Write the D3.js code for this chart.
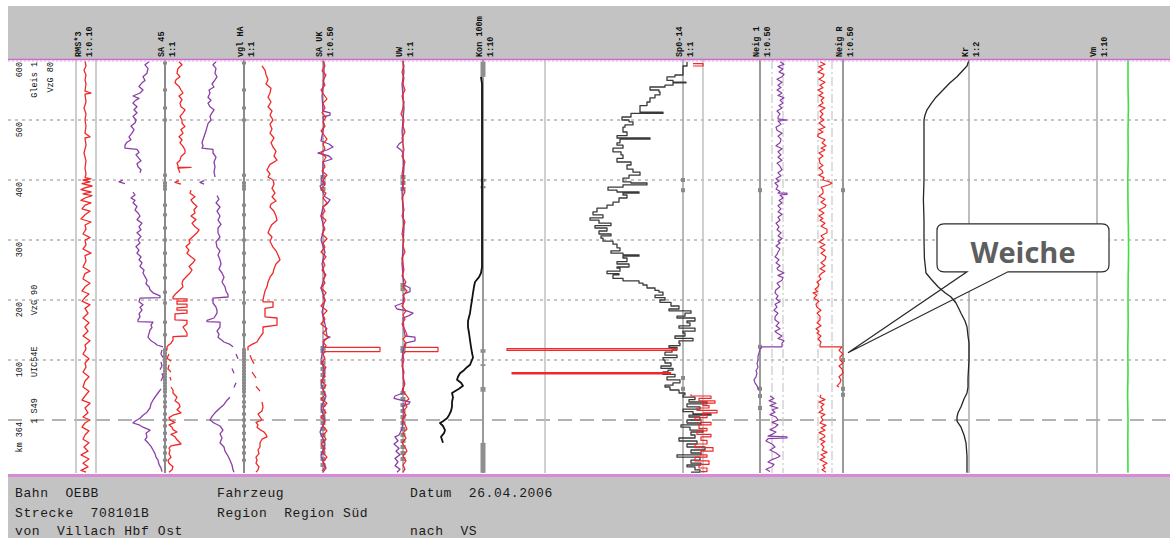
<!DOCTYPE html>
<html>
<head>
<meta charset="utf-8">
<title>Messschrieb Gleis 1</title>
<script src="https://d3js.org/d3.v7.min.js"></script>
<style>
  body { margin: 0; background: #fff; }
  text { font-family: "Liberation Mono", "DejaVu Sans Mono", monospace; }
</style>
</head>
<body>
<div id="chart"></div>
<script>
// ---- data: [km position in m, value in mm], null = gap ----
const kmTicks = [600, 500, 400, 300, 200, 100];
const kmTickLabels = ["600", "500", "400", "300", "200", "100"];
const kmZero = 0;

const headerNames = ["RMS*3", "SA 45", "vgl HA", "SA UK", "UW", "Kon 100m", "Sp0-14", "Neig 1", "Neig R", "Kr", "Vm"];
const headerScales = ["1:0.10", "1:1", "1:1", "1:0.50", "1:1", "1:10", "1:1", "1:0.50", "1:0.50", "1:2", "1:10"];
const headerChannels = ["rms", "sa45", "vgl", "sauk", "uw", "kon", "sp", "neig1", "neigR", "kr", "vm"];

const sideNotes = [
  { text: "Gleis 1", km: 600, col: 1, anchor: "end" },
  { text: "VzG 80", km: 600, col: 2, anchor: "end" },
  { text: "VzG 90", km: 200, col: 1, anchor: "middle" },
  { text: "UIC54E", km: 97, col: 1, anchor: "middle" },
  { text: "1 S49", km: 15, col: 1, anchor: "middle" },
  { text: "km 364", km: 0, col: 0, anchor: "end" }
];

const footerRows = [
  ["Bahn  OEBB", "Fahrzeug", "Datum  26.04.2006"],
  ["Strecke  708101B", "Region  Region Süd", ""],
  ["von  Villach Hbf Ost", "", "nach  VS"]
];

const rmsRed = [[598,0],[590,0.5],[583,-0.5],[575,0.5],[567,0],[560,0.5],[548,0],[545,3],[543,0],[530,0.5],[520,-0.5],[510,0.5],[500,0],[490,0.5],[478,0],[472,2.5],[470,0],[458,0.5],[445,-0.5],[432,0.5],[420,0],[410,0.5],[404,0],[402,3],[400,-1],[397,2.5],[394,-1.5],[390,3.5],[387,0],[384,-2],[380,3],[377,-1],[374,3.5],[370,0],[366,-2],[362,3],[358,0],[352,-1.5],[348,2.5],[342,0],[335,-2],[330,3],[325,0],[318,0.5],[310,-1],[304,2.5],[300,0],[292,0.5],[285,-1],[278,3],[274,0],[265,0.5],[255,-1],[248,2.5],[244,0],[235,-1],[228,2.5],[222,0],[215,-1.5],[210,2],[204,0],[198,-1.5],[192,2.5],[186,0],[178,1.5],[170,-1],[162,2],[155,0],[148,1.5],[140,-1],[132,2.5],[125,0],[118,0.5],[110,-1],[102,2],[95,0],[88,0.5],[80,-1],[72,2],[65,0],[55,-1],[48,2],[40,0],[33,-1.5],[28,2.5],[20,0],[12,1.5],[5,-1],[0,2.5],[-5,0],[-12,-1.5],[-18,2],[-25,0],[-32,-1],[-38,2],[-45,-0.5],[-52,1.5],[-58,-2],[-65,2],[-72,-1],[-78,1.5],[-84,-2],[-87,0.5]];

const sa45Purple = [[597,-8],[592,-10],[586,-8.5],[578,-9],[572,-11],[566,-10],[562,-11.5],[556,-13],[550,-11],[545,-12.5],[540,-16],[536,-13],[532,-15],[528,-16],[522,-14],[517,-15.5],[512,-14],[506,-16],[500,-14.5],[495,-15],[490,-17],[484,-15.5],[478,-16.5],[472,-18],[467,-17],[463,-19],[458,-20],[453,-20],[451,-14],[446,-13],[442,-14.5],[438,-13.5],[432,-12],[427,-14],[422,-13.5],[417,-12],[412,-12.5],
  null,[400,-21],[397,-23],[394,-20],
  null,[380,-16],[375,-15],[370,-17],[366,-15],[362,-16],[356,-14],[350,-15],[345,-13.5],[340,-12.5],[334,-14],[328,-11.5],[322,-13],[317,-12],[312,-14],[306,-12],[300,-13.5],[295,-12.5],[289,-14.5],[283,-13],[278,-14],[272,-12],[267,-13],[262,-11.5],[256,-12.5],[250,-10.5],[245,-11],[239,-10],[233,-9],[227,-9.5],[222,-8],[217,-7.5],[212,-6],[207,-2.5],[204,-2.5],[203,-12.5],[197,-13],[192,-11],[188,-12.5],[183,-11.5],[177,-13],[172,-12.5],[167,-13.5],[164,-13.5],[163,-6],[158,-7],[154,-6.5],[150,-7.5],[144,-8],[138,-8.5],[132,-7],[128,-5],[125,-4],[122,-1],
  null,[117,-1.5],[110,-2],[104,-1],
  null,[97,-2],[90,-1.5],[84,-2.5],
  null,[78,-1.5],[72,-1],[65,-2],
  null,[52,-2],[45,-3.5],[38,-5],[33,-6],[27,-7],[20,-7.5],[13,-9],[8,-11],[3,-12.5],[-2,-15],[-5,-16],[-8,-13],[-12,-11],[-17,-7.5],[-22,-9.5],[-28,-9],[-33,-10],[-38,-8.5],[-44,-7],[-50,-6],[-56,-5],[-62,-4.5],[-67,-3.5],[-74,-3],[-80,-2],[-86,-1.5]];

const sa45Red = [[597,7],[592,8.5],[586,6.5],[578,6],[572,7.5],[567,5.5],[562,5],[556,7],[550,8],[545,9],[540,7],[534,8.5],[528,7.5],[522,8],[517,10],[512,9],[506,7.5],[500,8.5],[495,8.5],[489,10],[484,8],[478,9],[472,7],[467,8.5],[462,7.5],[456,9],[450,10],[445,10],[439,8],[433,7.5],[428,6],[424,6.5],[421,6.5],[421,13],[420,6.5],[412,7.5],
  null,[399,7],[396,5],[393,8],
  null,[383,13],[378,12.5],[372,15],[367,13],[362,14],[356,16],[350,14.5],[345,15],[340,13],[334,15.5],[328,13.5],[322,15],[317,17],[312,16],[306,14],[300,12],[295,12.5],[289,10.5],[283,12],[278,11],[272,13],[267,15],[262,14],[256,12],[250,13.5],[245,12.5],[240,11],[233,9],[228,8.5],[222,9],[217,7.5],[211,5.5],[205,4],[202,4],[202,11],[198,11],[198,6],[193,6],[193,11],[188,11],[187,6],[183,6],[183,11],[178,11],[177,5],[167,5],[166,11],[160,11],[155,9],[150,10],[145,11],[140,11],[139,4],[133,4],[128,3],[124,1.5],[122,1],[116,1],
  null,[110,2],[103,1],[98,3],
  null,[92,2],[85,1.5],[80,3],
  null,[72,2.5],[66,3],
  null,[55,3],[50,4],[45,4],[38,6],[32,5],[27,7],[22,7.5],[17,6],[12,8],[8,4],[4,2],[0,2.5],[-4,5],[-8,2],[-12,3.5],[-16,4],[-20,6],[-24,3],[-28,5],[-33,6],[-38,7.5],[-40,8],[-43,3],[-47,2],[-50,2.5],[-56,2],[-62,3],[-67,1.5],[-72,2],[-78,4],[-83,3.5],[-87,2]];

const vglPurple = [[597,-14],[592,-15.5],[586,-14],[578,-14.5],[572,-13.5],[567,-14.5],[560,-16],[555,-15],[550,-17.5],[545,-17],[538,-18],[533,-16.5],[528,-18],[522,-17],[517,-15],[512,-16],[506,-17],[500,-16.5],[494,-18],[488,-18.5],[482,-19],[477,-19.5],[472,-20],[467,-20.5],[462,-21],[457,-20.5],[453,-21],[451,-15.5],[445,-15.5],[438,-14],[430,-15],[422,-14.5],[414,-15],[405,-14.5],
  null,[399,-20],[396,-22],[393,-20],
  null,[374,-13.5],[368,-12.5],[362,-14],[355,-12],[348,-13.5],[340,-12],[333,-13],[326,-11.5],[320,-13],[312,-13],[305,-12],[297,-14],[288,-13.5],[282,-12],[275,-13],[267,-12],[260,-11.5],[252,-12.5],[245,-11],[238,-10],[230,-11],[222,-9.5],[215,-9],[209,-8],[205,-8],[203,-15.5],[195,-15.5],[188,-14],[183,-13.5],[178,-13.5],[170,-15],[166,-18.5],[164,-18.5],[163,-12],[155,-12],[148,-13.5],[143,-12.5],[138,-13],[130,-10],[126,-7],[122,-5.5],
  null,[110,-4],[102,-3],
  null,[86,-6],[78,-5],
  null,[62,-4],[54,-5],
  null,[38,-7],[33,-8.5],[26,-10],[20,-12],[12,-14.5],[6,-16],[0,-17],[-5,-15],[-10,-12],[-17,-10.5],[-23,-12],[-30,-11],[-38,-12],[-45,-10],[-52,-9.5],[-60,-8],[-67,-7],[-75,-6],[-83,-5.5],[-87,-5]];

const vglRed = [[590,9],[583,10.5],[576,11],[567,12],[560,11],[553,13.5],[545,13],[538,12],[530,13.5],[522,12],[515,14],[508,13],[500,14.5],[493,13],[485,14],[478,13],[470,15],[462,13.5],[455,14.5],[448,16],[440,15],[433,16.5],[426,13],[420,12],[417,11.5],[410,13],[405,12],[400,14.5],[393,15],[386,14],[378,15.5],[372,14],[365,16],[360,13.5],[355,13],[348,15],[340,16],[333,16.5],[326,14],[320,13],[312,12],[305,14],[298,13],[288,14.5],[282,16],[275,17],[267,18],[260,16],[252,15],[245,14.5],[238,13],[230,12],[222,11.5],[215,10.5],[208,10],[200,9.5],[197,9.5],[197,14.5],[188,14.5],[186,10.5],[172,10.5],[170,16.5],[158,16.5],[155,9.5],[145,9.5],[138,8],[133,7],[130,6.5],[126,4],[122,2],[116,2],
  null,[108,3],[100,4],[94,5],
  null,[80,4],[70,6],
  null,[56,6],[48,8],
  null,[30,9],[22,9.5],[15,9],[10,7],[5,8],[0,9],[-4,6],[-8,7],[-12,6.5],[-16,8],[-20,10],[-24,11],[-28,11.5],[-32,9],[-38,8],[-45,8],[-50,7],[-56,7.5],[-62,6],[-67,6.5],[-72,6],[-78,7.5],[-83,7],[-87,6]];

const saukRed = [[598,0],[590,1],[582,-0.5],[575,1.5],[566,0],[558,1],[550,-1],[542,0.5],[535,2],[528,0],[520,1],[512,-0.5],[505,1.5],[497,0],[490,1],[482,-1],[475,0.5],[468,2],[460,0],[452,1],[445,-1],[438,1.5],[430,0],[422,1],[415,-0.5],[408,2],[400,0],[392,1],[385,-1],[378,1.5],[370,0],[362,2],[355,0],[348,1],[340,-1],[333,1.5],[325,0],[318,1],[310,-0.5],[302,2],[295,0],[288,1],[280,-1],[272,1.5],[265,0],[258,1],[250,-0.5],[242,1.5],[235,0],[228,1],[220,-1],[212,1.5],[205,0],[198,1],[190,-1],[182,2],[175,0],[168,1],[160,-1],[152,2],[145,0],[138,2.5],[130,0],[124,1.5],[121,1],[121,28.5],[114,28.5],[114,1],[110,0],[102,1],[95,-1],[88,1.5],[80,0],[72,1],[65,-1],[58,1.5],[50,0],[42,1],[35,-1],[28,2],[20,0],[12,1.5],[5,-1],[-2,1],[-10,0],[-18,2],[-25,0],[-32,1.5],[-40,-1],[-48,1],[-55,0],[-62,2],[-70,0],[-78,1],[-85,-0.5]];

const saukPurple = [[598,0.5],[570,0.5],[540,-0.5],[515,0],[512,3.5],[508,3.5],[505,0],[490,0.5],[465,-1],[460,3],[455,5],[450,2],[445,-2.5],[440,3],[435,4.5],[430,0],[410,0],[400,-1],[395,1],[390,-1.5],[380,0],[372,1],[367,3.5],[360,2],[355,0],[340,-1],[320,0.5],[300,-1],[280,1],[260,-0.5],[240,1],[220,-1],[200,1],[180,-0.5],[160,1],[140,2],[138,3.5],[134,0.5],[120,0],[100,-1],[80,1],[60,-1],[40,1.5],[20,-1],[0,1],[-20,-1.5],[-40,1],[-60,-1],[-80,1.5],[-87,0]];

const uwRed = [[598,0],[590,0.5],[580,-0.5],[570,0.5],[560,0],[550,1],[540,-0.5],[530,0.5],[520,0],[510,-1],[500,0.5],[490,0],[480,1],[470,-0.5],[460,0],[450,0.5],[440,-0.5],[430,1],[420,0],[410,-0.5],[400,0.5],[390,0],[380,1],[370,-0.5],[360,0],[350,0.5],[340,-0.5],[330,1],[320,0],[310,-0.5],[300,0.5],[290,0],[280,1],[270,-0.5],[260,0],[250,0.5],[240,-0.5],[230,1.5],[222,0],[215,2],[208,0],[200,1],[190,-0.5],[182,1.5],[175,0],[168,1],[160,-0.5],[150,1],[142,2],[135,0],[128,1.5],[121,1],[121,17.5],[114,17.5],[114,1],[108,0],[100,0.5],[90,-0.5],[80,0.5],[70,0],[60,1],[50,-0.5],[42,1.5],[35,3],[30,1],[22,2],[15,0],[8,1.5],[0,-0.5],[-8,1],[-15,2],[-22,0],[-30,1.5],[-38,-0.5],[-45,1],[-52,2],[-60,0],[-68,1.5],[-75,0],[-82,1],[-87,0]];

const uwPurple = [[598,0],[580,0.5],[560,-0.5],[540,0],[520,0.5],[500,0],[480,-0.5],[465,0],[460,-2],[455,-3],[450,-1],[445,0],[420,0.5],[400,0],[380,-0.5],[350,0],[320,0.5],[290,0],[260,-0.5],[240,0],[225,0.5],[220,3.5],[214,3.5],[210,0.5],[195,0],[190,-4],[185,-3],[182,2],[178,5],[174,3],[170,0],[150,0.5],[140,1],[138,6],[132,6],[128,1],[115,0],[100,-0.5],[80,0],[60,0.5],[45,0],[40,-4],[36,-4.5],[33,-1],[30,3.5],[27,3],[24,0],[10,0.5],[0,0],[-15,-0.5],[-25,-2],[-28,-4],[-35,-2.5],[-40,-4.5],[-47,-2],[-52,-3.5],[-58,-1.5],[-64,-4],[-70,-2.5],[-76,-4],[-82,-1.5],[-87,-3]];

const konBlack = [[572,-1],[560,-0.5],[547,-0.5],[500,-0.5],[450,-0.5],[400,-0.5],[350,-0.5],[300,-0.5],[255,-0.5],[245,-1],[238,-2],[230,-4],[222,-4.5],[212,-5],[200,-5.5],[190,-6],[178,-6.5],[165,-7.5],[155,-7.5],[145,-7],[133,-6.5],[122,-6],[112,-5.5],[104,-5],[100,-5.5],[92,-6.5],[88,-8],[83,-9.5],[78,-11.5],[72,-12.5],[67,-13],[62,-11],[57,-10],[52,-12],[45,-15.5],[38,-15],[30,-15.5],[22,-15.5],[15,-16],[8,-17],[3,-18],[-2,-20],[-5,-21.5],[-10,-20],[-17,-19],[-22,-19.5],[-28,-21],[-33,-20.5],[-38,-20]];

const spBlack = [[597,2],[590,0],[580,0],[575,-4],[572,-8],[566,-5],[563,1.5],[562,-5],[558,-9],[555,-16.5],[550,-12],[547,-11.5],[542,-14],[537,-16.5],[530,-18],[524,-21.5],[520,-21.5],[513,-10],[511,-26],[505,-30.5],[500,-27],[497,-25],[492,-29],[488,-30],[480,-28],[474,-33],[470,-16.5],[468,-31.5],[462,-33],[458,-30],[453,-35],[447,-31],[442,-30],[436,-33],[430,-26],[425,-28],[418,-25],[413,-21.5],[408,-27],[403,-30],[397,-26],[395,-18],[392,-30],[388,-37.5],[383,-33],[380,-22],[378,-30],[375,-28],[370,-32],[363,-35],[358,-38],[353,-43],[347,-45],[342,-40],[337,-46.5],[333,-42],[328,-36],[324,-44],[320,-38],[315,-42],[310,-36],[307,-41],[303,-40],[298,-35],[293,-33],[287,-31.5],[282,-36],[278,-30],[275,-22],[273,-30],[270,-28],[264,-33],[260,-27],[255,-33],[253,-31.5],[248,-38],[244,-32],[242,-35],[236,-30],[232,-22],[228,-20],[225,-18],[220,-14],[216,-12],[213,-10],[208,-14],[204,-9],[200,-11.5],[196,-6],[190,-2],[185,-7],[182,4],[178,1],[173,-3],[170,6],[165,2],[162,3.5],[157,-2],[153,6],[148,0],[145,1],[140,-4],[136,5],[132,-2],[128,-1.5],[124,-7],[121,-3],[117,-5.5],[113,-9],[108,-3],[104,-10],[100,-9],[95,-6],[90,-11],[86,-5],[83,-7.5],[80,-10],[76,-4],[72,-8],[67,-1.5],[62,-5],[58,-9],[55,-6.5],[50,-2],[45,1],[42,0],[38,6],[34,3],[30,12],[27,2],[22,8.5],[18,0],[14,5],[10,14],[8,3],[5,8.5],[0,2],[-5,9],[-8,-1],[-12,3.5],[-17,10],[-20,4],[-25,6],[-30,-2],[-35,7],[-40,2],[-45,11],[-50,4],[-55,9],[-58,-3],[-62,8.5],[-67,4],[-72,9],[-75,2],[-78,6],[-83,8.5],[-87,4]];

const spRed = [[594,5],[594,10],[590,10],[590,5],
  null,[119,-3],[119,-88],[116,-88],[116,-3],
  null,[79,-6],[79,-85.5],[77,-85.5],[77,-6],
  null,[43,4],[40,14],[36,8],[32,16],[28,10],[24,13],[20,7],[16,17],[12,10],[8,12],[4,6],[0,9],[-4,14],[-8,8],[-14,12],[-18,7],[-24,14],[-28,9],[-34,12],[-40,6],[-46,15],[-52,9],[-58,12],[-62,6],[-68,13],[-74,8],[-80,12],[-86,9]];

const neig1Purple = [[597,10],[593,12],[589,9],[585,11.5],[580,9.5],[576,12],[572,11],[568,8.5],[563,11],[558,9],[554,10.5],[550,8.5],[545,11],[541,9],[537,12],[533,10],[528,11.5],[524,9.5],[520,11],[515,8.5],[510,10],[505,9],[502,9],[500,13.5],[498,9],[493,10.5],[488,8],[483,8.5],[478,11],[473,9],[468,10.5],[462,10],[457,8],[452,11],[447,9],[442,10.5],[438,9],[433,11],[428,8.5],[423,10],[417,11],[412,9],[407,10.5],[402,8],[398,9.5],[395,7.5],[390,9],[385,8],[381,10],[378,9],[378,13.5],[376,13.5],[375,10],[370,11.5],[366,9.5],[362,11],[357,9],[352,10.5],[347,9],[343,11],[338,9],[333,10],[328,8],[322,9.5],[317,8.5],[312,10.5],[307,9],[302,11],[298,9],[295,10],[290,8],[285,10],[280,9],[276,8.5],[272,7.5],[267,9.5],[262,8],[257,10],[253,8.5],[250,9],[245,12],[241,9],[237,11.5],[233,11],[228,8.5],[222,10],[217,8],[212,7.5],[207,9],[202,8],[197,10],[193,7.5],[188,8.5],[183,7],[178,9],[172,7.5],[167,7.5],[162,9.5],[157,8],[152,10],[148,7.5],[145,8.5],[140,11],[136,9],[132,12],[128,11],[122,11],[122,1],[118,0],[112,-0.5],[106,-1],[100,-1],[94,-1.5],[88,-1],[82,-2],[78,-1.5],[72,-2],[67,-3],[62,-2.5],[57,-1.5],[52,-1],[50,-1],
  null,[40,5],[36,7],[32,4.5],[28,8],[24,5],[20,9],[17,6],[13,7.5],[9,5],[5,8],[0,9],[-4,6],[-8,9],[-12,7.5],[-16,5],[-20,8],[-24,6],[-27,4],[-28,13.5],[-30,13.5],[-31,4],[-35,3],[-40,6],[-45,7.5],[-50,5],[-55,8],[-60,10],[-62,9],[-66,6],[-70,4],[-74,7],[-78,6],[-82,3],[-86,5]];

const neigRRed = [[597,-11.5],[593,-9],[589,-12],[585,-10],[580,-12.5],[576,-9.5],[572,-10],[568,-12],[563,-9],[558,-11.5],[554,-10],[550,-12.5],[545,-10],[541,-12],[537,-9.5],[533,-11],[528,-10],[524,-12],[520,-9],[515,-11.5],[510,-10],[505,-11.5],[500,-9.5],[495,-12],[490,-10],[488,-9],[484,-12],[480,-10],[476,-12.5],[472,-12.5],[467,-9],[462,-10.5],[457,-8.5],[453,-11],[450,-9],[445,-12],[440,-10],[435,-12],[428,-11.5],[424,-10],[420,-12],[416,-10.5],[412,-10],[408,-12],[404,-9.5],[400,-10],[397,-7],[395,-5.5],[392,-7],[388,-11],[383,-10],[378,-10],[373,-12],[368,-9],[363,-11],[358,-8.5],[355,-9],[350,-12],[345,-9.5],[340,-12],[336,-10],[333,-11.5],[328,-9],[323,-11],[318,-8],[312,-8],[307,-11],[302,-9.5],[297,-12],[292,-9],[288,-11.5],[283,-9],[278,-11],[272,-8.5],[267,-9],[262,-11],[257,-9],[252,-11.5],[248,-9],[245,-10.5],[240,-12],[235,-11],[230,-13],[226,-12],[222,-12.5],[218,-14],[214,-12.5],[212,-15],[208,-13],[203,-14.5],[198,-12],[193,-13.5],[188,-13],[183,-11],[178,-13],[173,-11.5],[167,-11.5],[162,-13],[157,-11],[152,-13.5],[148,-12],[145,-13],[140,-11],[135,-12.5],[130,-11],[125,-11.5],[122,-11.5],[122,-0.5],[116,-2],[110,0],[105,-1.5],[100,-1.5],[95,0],[90,-2],[85,-0.5],[78,0],[72,-2],[67,-1],[62,-1.5],[57,-3],[55,-2],
  null,[42,-11],[38,-11.5],[34,-9],[30,-12],[26,-9.5],[22,-11],[17,-10],[13,-12],[9,-9],[5,-11],[0,-10],[-5,-11.5],[-9,-8.5],[-13,-11],[-17,-9],[-21,-12],[-25,-9.5],[-28,-9],[-32,-11.5],[-36,-9],[-40,-11],[-45,-9.5],[-50,-10.5],[-54,-8],[-58,-11],[-62,-9],[-66,-11.5],[-72,-8],[-76,-10],[-80,-9],[-83,-10.5],[-87,-8.5]];

const krBlack = [[600,0],[590,-1],[583,-3],[572,-6],[562,-9.5],[550,-13],[538,-16.5],[527,-19],[517,-21],[508,-22],[500,-22.5],[470,-22.5],[433,-22.5],[400,-22.5],[367,-22.8],[333,-22.5],[300,-22.5],[270,-22.3],[245,-21.5],[235,-19],[222,-15.5],[212,-12],[205,-9],[195,-6.5],[185,-5],[178,-4],[165,-2],[155,-1],[140,-0.5],[128,0],[100,0],[70,-0.5],[55,-0.5],[45,-1],[35,-2.5],[22,-4],[12,-5.5],[5,-6],[-2,-6],[-12,-4],[-25,-2.5],[-38,-1.5],[-60,-1],[-88,-1]];

const vmGreen = [[600,15.5],[560,15.5],[520,15.7],[480,15.5],[440,15.6],[400,15.4],[360,15.5],[320,15.7],[280,15.8],[240,15.6],[200,15.5],[160,15.6],[120,15.4],[80,15.5],[40,15.3],[0,15.5],[-40,15.4],[-88,15.5]];

// marker positions (km) on the channel axes
const saMarks = [595,550,520,500,408,395,390,385,358,342,320,300,278,258,237,213,195,163,142,117,112,107,102,97,92,87,82,77,72,67,62,57,52,47,40,30,22,10,0,-10,-22,-33,-45,-55,-67];
const ukMarks = [405,395,385,120,115,95,85,75,65,55,45,35,25,15,5,-5,-15,-25,-35,-45,-55,-65,-75];
const uwMarks = [405,395,385,225,218,120,115,45,35,25,15,5,-5,-15,-25,-35,-45,-55,-65];
const konBlocks = [[597,572],[402,397],[390,386],[118,112],[93,90],[55,47],[-38,-88]];
const spMarks = [400,383,70,52];
const neig1Marks = [383,122,52,40,20];
const neigRMarks = [383,100,52,42];

// ---- layout ----
const width = 1170, height = 538;
const plotLeft = 8, plotTop = 60, plotBottom = 473;
const mmPx = 2;
const axisX = { rms: 85, sa45: 165, vgl: 244, sauk: 323, uw: 403, kon: 483, sp: 683, neig1: 760, neigR: 843, kr: 969, vm: 1097 };
const headerX = Object.assign({}, axisX, { rms: 82 });

const svg = d3.select("#chart").append("svg")
    .attr("width", width)
    .attr("height", height);

const y = d3.scaleLinear().domain([600, 0]).range([plotTop, 420]);

function xScale(ch) {
    return d3.scaleLinear().domain([0, 10]).range([axisX[ch], axisX[ch] + 10 * mmPx]);
}

// header and footer bands
svg.append("rect").attr("x", plotLeft).attr("y", 6).attr("width", width - plotLeft).attr("height", 53).attr("fill", "#c3c3c3");
svg.append("rect").attr("x", plotLeft).attr("y", 477).attr("width", width - plotLeft).attr("height", height - 477).attr("fill", "#c3c3c3");

// horizontal grid
svg.append("g").selectAll("line")
    .data(kmTicks.slice(1))
    .enter().append("line")
    .attr("x1", plotLeft).attr("x2", width)
    .attr("y1", d => y(d)).attr("y2", d => y(d))
    .attr("stroke", "#8c8c8c").attr("stroke-width", 1.2)
    .attr("stroke-dasharray", "3,4");

svg.append("line")
    .attr("x1", plotLeft).attr("x2", width)
    .attr("y1", y(kmZero)).attr("y2", y(kmZero))
    .attr("stroke", "#9a9a9a").attr("stroke-width", 1.6)
    .attr("stroke-dasharray", "14,8");

// vertical reference lines
const refLines = [
    { x: 76, c: "#bdbdbd", w: 1.5 }, { x: 96, c: "#bdbdbd", w: 1.5 },
    { x: 545, c: "#c0c0c0", w: 1.5 }, { x: 703, c: "#c0c0c0", w: 1.5 }
];
svg.append("g").selectAll("line")
    .data(refLines)
    .enter().append("line")
    .attr("x1", d => d.x).attr("x2", d => d.x)
    .attr("y1", plotTop).attr("y2", plotBottom)
    .attr("stroke", d => d.c).attr("stroke-width", d => d.w);

const dashDot = [772, 783, 818, 832];
svg.append("g").selectAll("line")
    .data(dashDot)
    .enter().append("line")
    .attr("x1", d => d).attr("x2", d => d)
    .attr("y1", plotTop).attr("y2", plotBottom)
    .attr("stroke", "#c8c8c8").attr("stroke-width", 1.2)
    .attr("stroke-dasharray", "9,3,2,3");

const axisStyle = { sa45: ["#8a8a8a", 2], vgl: ["#8a8a8a", 2], sauk: ["#a0a0a0", 1.5], uw: ["#a0a0a0", 1.5], kon: ["#9a9a9a", 2],
    sp: ["#a0a0a0", 1.5], neig1: ["#9a9a9a", 2], neigR: ["#9a9a9a", 2], kr: ["#a8a8a8", 1.5], vm: ["#a8a8a8", 1.5] };
svg.append("g").selectAll("line")
    .data(Object.keys(axisStyle))
    .enter().append("line")
    .attr("x1", d => xScale(d)(0)).attr("x2", d => xScale(d)(0))
    .attr("y1", plotTop).attr("y2", plotBottom)
    .attr("stroke", d => axisStyle[d][0]).attr("stroke-width", d => axisStyle[d][1]);

// axis markers
function marks(list, ch, w, h) {
    const x0 = xScale(ch)(0);
    svg.append("g").selectAll("rect")
        .data(list)
        .enter().append("rect")
        .attr("x", x0 - w / 2).attr("y", d => y(d) - h / 2)
        .attr("width", w).attr("height", h)
        .attr("fill", "#8a8a8a");
}
marks(saMarks, "sa45", 4, 3);
marks(saMarks, "vgl", 4, 3);
marks(ukMarks, "sauk", 5, 4);
marks(uwMarks, "uw", 5, 4);
marks(spMarks, "sp", 4, 4);
marks(neig1Marks, "neig1", 4, 4);
marks(neigRMarks, "neigR", 4, 4);

svg.append("g").selectAll("rect")
    .data(konBlocks)
    .enter().append("rect")
    .attr("x", xScale("kon")(0) - 2.5).attr("y", d => y(d[0]))
    .attr("width", 5).attr("height", d => y(d[1]) - y(d[0]))
    .attr("fill", "#8f8f8f");

// callout bubble (drawn under the traces)
const tipX = xScale("neigR")(2.5), tipY = y(112);
const bx0 = 937, bx1 = 1109, by0 = y(327), by1 = y(247), br = 7;
const bubble = `M${bx0 + br},${by0} H${bx1 - br} Q${bx1},${by0} ${bx1},${by0 + br} V${by1 - br} Q${bx1},${by1} ${bx1 - br},${by1}
  H1008 L${tipX},${tipY} L967,${by1} H${bx0 + br} Q${bx0},${by1} ${bx0},${by1 - br} V${by0 + br} Q${bx0},${by0} ${bx0 + br},${by0} Z`;
svg.append("path").attr("d", bubble).attr("fill", "#fff").attr("stroke", "none");

// traces
function trace(data, ch, color, w, curve) {
    const xs = xScale(ch);
    const line = d3.line()
        .defined(d => d !== null)
        .x(d => xs(d[1]))
        .y(d => y(d[0]))
        .curve(curve || d3.curveLinear);
    svg.append("path")
        .datum(data)
        .attr("d", line)
        .attr("fill", "none")
        .attr("stroke", color)
        .attr("stroke-width", w)
        .attr("stroke-linejoin", "round");
}
const red = "#f02828", purple = "#8a3fa8", black = "#262626";

trace(rmsRed, "rms", red, 1.3);
trace(sa45Purple, "sa45", purple, 1.3);
trace(sa45Red, "sa45", red, 1.3);
trace(vglPurple, "vgl", purple, 1.3);
trace(vglRed, "vgl", red, 1.3);
trace(saukPurple, "sauk", purple, 1.3);
trace(saukRed, "sauk", red, 1.2);
trace(uwPurple, "uw", purple, 1.3);
trace(uwRed, "uw", red, 1.2);
trace(konBlack, "kon", "#111", 1.8);
trace(spBlack, "sp", "#3a3a3a", 1.3, d3.curveStepBefore);
trace(spRed, "sp", red, 1.2, d3.curveStepBefore);
trace(neig1Purple, "neig1", purple, 1.2);
trace(neigRRed, "neigR", red, 1.2);
trace(krBlack, "kr", black, 1.3);
trace(vmGreen, "vm", "#3ee03e", 1.6);

// callout outline and text
svg.append("path").attr("d", bubble).attr("fill", "none").attr("stroke", "#2a2a2a").attr("stroke-width", 1.2);
svg.append("text")
    .attr("x", (bx0 + bx1) / 2).attr("y", by1 - 9)
    .attr("text-anchor", "middle")
    .style("font-family", "'Open Sans', 'Noto Sans', sans-serif")
    .style("font-weight", "bold")
    .style("font-size", "29px")
    .attr("fill", "#5e5e5e")
    .text("Weiche");

// magenta frame lines
svg.append("line").attr("x1", plotLeft).attr("x2", width).attr("y1", 59.5).attr("y2", 59.5)
    .attr("stroke", "#cf6bcf").attr("stroke-width", 1.5);
svg.append("line").attr("x1", plotLeft).attr("x2", width).attr("y1", 61).attr("y2", 61)
    .attr("stroke", "#e6a6e6").attr("stroke-width", 1).attr("stroke-dasharray", "2,2");
svg.append("line").attr("x1", plotLeft).attr("x2", width).attr("y1", 475.5).attr("y2", 475.5)
    .attr("stroke", "#d88ad8").attr("stroke-width", 3);

// header channel labels (rotated)
const hdr = svg.append("g").style("font-size", "8.5px").style("font-weight", "bold").attr("fill", "#111");
headerChannels.forEach((ch, i) => {
    hdr.append("text")
        .attr("transform", `translate(${headerX[ch] - 1},57) rotate(-90)`)
        .text(headerNames[i]);
    hdr.append("text")
        .attr("transform", `translate(${headerX[ch] + 10},57) rotate(-90)`)
        .text(headerScales[i]);
});

// km labels and side notes
const colX = [22, 37, 53];
const side = svg.append("g").style("font-size", "8.5px").attr("fill", "#111");
side.selectAll(".km")
    .data(kmTicks)
    .enter().append("text")
    .attr("class", "km")
    .attr("text-anchor", "end")
    .attr("transform", d => `translate(${colX[0]},${y(d) + 2}) rotate(-90)`)
    .text((d, i) => kmTickLabels[i]);
side.selectAll(".note")
    .data(sideNotes)
    .enter().append("text")
    .attr("class", "note")
    .attr("text-anchor", d => d.anchor)
    .attr("transform", d => `translate(${colX[d.col]},${y(d.km) + (d.anchor === "end" ? 2 : 0)}) rotate(-90)`)
    .text(d => d.text);

// footer
const footColX = [15, 217, 410], footRowY = [497, 517, 535];
const foot = svg.append("g").style("font-size", "13px").style("letter-spacing", "0.6px").attr("fill", "#1a1a1a");
footerRows.forEach((row, r) => {
    row.forEach((t, c) => {
        if (t) foot.append("text").attr("x", footColX[c]).attr("y", footRowY[r]).style("white-space", "pre").text(t);
    });
});
</script>
</body>
</html>
